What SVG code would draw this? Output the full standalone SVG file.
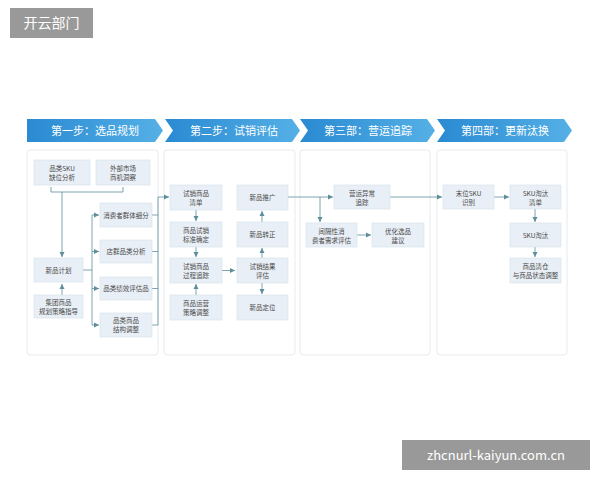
<svg xmlns="http://www.w3.org/2000/svg" width="600" height="480" viewBox="0 0 600 480">
<defs>
<linearGradient id="g" x1="0" y1="0" x2="1" y2="0"><stop offset="0" stop-color="#2a8ad2"/><stop offset="1" stop-color="#55b0e6"/></linearGradient>
<marker id="a" markerWidth="6" markerHeight="6" refX="5" refY="3" orient="auto" markerUnits="userSpaceOnUse"><path d="M0,0.5 L5,3 L0,5.5 Z" fill="#5d8e9c"/></marker>
</defs>
<style>
text{font-family:"Noto Sans CJK SC","Noto Sans",sans-serif;}
.n rect{fill:#e9eff6;stroke:#d8e2ec;stroke-width:0.6;}
.n text{font-size:6.5px;fill:#4a4a4a;text-anchor:middle;}
.p{fill:#fff;stroke:#dfe5ea;stroke-width:0.8;}
.b{fill:url(#g);}
.bt{font-size:11px;fill:#fff;text-anchor:middle;}
#c path{fill:none;stroke:#5d8e9c;stroke-width:0.8;}
.ar{marker-end:url(#a);}
</style>
<rect width="600" height="480" fill="#fff"/>
<g id="wm1"><rect x="10" y="8" width="83" height="30" fill="#999"/><text x="51.5" y="28" font-size="14" fill="#fff" text-anchor="middle">开云部门</text></g>
<g id="wm2"><rect x="402" y="440" width="188" height="30" fill="#999"/><text x="496" y="460" font-size="13" fill="#fff" text-anchor="middle" font-family="Liberation Sans, sans-serif">zhcnurl-kaiyun.com.cn</text></g>

<g id="banners">
<polygon class="b" points="27,119 155,119 163,130.5 155,142 27,142"/>
<polygon class="b" points="165,119 292,119 300,130.5 292,142 165,142 173,130.5"/>
<polygon class="b" points="300,119 427,119 435,130.5 427,142 300,142 308,130.5"/>
<polygon class="b" points="437,119 564,119 572,130.5 564,142 437,142 445,130.5"/>
<text class="bt" x="95" y="134.5">第一步：选品规划</text>
<text class="bt" x="234" y="134.5">第二步：试销评估</text>
<text class="bt" x="368" y="134.5">第三部：营运追踪</text>
<text class="bt" x="505" y="134.5">第四部：更新汰换</text>
</g>

<g id="panels">
<rect class="p" x="27" y="150" width="131" height="205" rx="3"/>
<rect class="p" x="164" y="150" width="131" height="205" rx="3"/>
<rect class="p" x="300" y="150" width="130" height="205" rx="3"/>
<rect class="p" x="437" y="150" width="130" height="205" rx="3"/>
</g>

<g id="c">
<path d="M51,187 V192 H123 V187"/>
<path class="ar" d="M62,192 V257"/>
<path class="ar" d="M62,295 V284"/>
<path d="M83,270 H92"/>
<path d="M92,215 V325"/>
<path class="ar" d="M92,215 H99"/>
<path class="ar" d="M92,251.5 H99"/>
<path class="ar" d="M92,288.5 H99"/>
<path class="ar" d="M92,325 H99"/>
<path d="M152,215 H158 M152,251.5 H158 M152,288.5 H158 M152,325 H158"/>
<path class="ar" d="M158,325 V197 H169"/>
<path class="ar" d="M196,210 V221"/>
<path class="ar" d="M196,247 V257"/>
<path class="ar" d="M196,295 V284"/>
<path class="ar" d="M222,270.5 H235"/>
<path class="ar" d="M262,258 V248"/>
<path class="ar" d="M262,222 V211"/>
<path class="ar" d="M262,283 V294"/>
<path class="ar" d="M288,197 H333"/>
<path class="ar" d="M320,197 V222"/>
<path class="ar" d="M357,235 H371"/>
<path class="ar" d="M390,197 H442"/>
<path class="ar" d="M494,197 H509"/>
<path class="ar" d="M535,209 V222"/>
<path class="ar" d="M535,247 V257"/>
</g>

<g id="n1" class="n"><rect x="34" y="160" width="56" height="25"/><text x="62" y="171">品类SKU</text><text x="62" y="180">缺位分析</text></g>
<g id="n2" class="n"><rect x="96" y="160" width="54" height="25"/><text x="123" y="171">外部市场</text><text x="123" y="180">商机洞察</text></g>
<g id="n3" class="n"><rect x="34" y="258" width="49" height="24"/><text x="58.5" y="272.5">新品计划</text></g>
<g id="n4" class="n"><rect x="34" y="295" width="49" height="23"/><text x="58.5" y="305">集团商品</text><text x="58.5" y="314">规划策略指导</text></g>
<g id="n5" class="n"><rect x="100" y="203" width="52" height="24"/><text x="126" y="217.5">消费者群体细分</text></g>
<g id="n6" class="n"><rect x="100" y="240" width="52" height="23"/><text x="126" y="254">店群品类分析</text></g>
<g id="n7" class="n"><rect x="100" y="277" width="52" height="23"/><text x="126" y="291">品类绩效评估品</text></g>
<g id="n8" class="n"><rect x="100" y="313" width="52" height="24"/><text x="126" y="323">品类商品</text><text x="126" y="332">结构调整</text></g>
<g id="n9" class="n"><rect x="170" y="185" width="52" height="25"/><text x="196" y="196">试销商品</text><text x="196" y="205">清单</text></g>
<g id="n10" class="n"><rect x="170" y="222" width="52" height="25"/><text x="196" y="233">商品试销</text><text x="196" y="242">标准确定</text></g>
<g id="n11" class="n"><rect x="170" y="258" width="52" height="25"/><text x="196" y="269">试销商品</text><text x="196" y="278">过程追踪</text></g>
<g id="n12" class="n"><rect x="170" y="295" width="52" height="25"/><text x="196" y="306">商品运营</text><text x="196" y="315">策略调整</text></g>
<g id="n13" class="n"><rect x="237" y="185" width="51" height="25"/><text x="262.5" y="200">新品推广</text></g>
<g id="n14" class="n"><rect x="237" y="222" width="51" height="25"/><text x="262.5" y="237">新品转正</text></g>
<g id="n15" class="n"><rect x="237" y="258" width="51" height="25"/><text x="262.5" y="269">试销结果</text><text x="262.5" y="278">评估</text></g>
<g id="n16" class="n"><rect x="237" y="295" width="51" height="25"/><text x="262.5" y="310">新品定位</text></g>
<g id="n17" class="n"><rect x="334" y="185" width="56" height="24"/><text x="362" y="195.5">营运异常</text><text x="362" y="204.5">追踪</text></g>
<g id="n18" class="n"><rect x="306" y="223" width="51" height="24"/><text x="331.5" y="233.5">间隔性消</text><text x="331.5" y="242.5">费者需求评估</text></g>
<g id="n19" class="n"><rect x="372" y="223" width="52" height="24"/><text x="398" y="233.5">优化选品</text><text x="398" y="242.5">建议</text></g>
<g id="n20" class="n"><rect x="443" y="185" width="51" height="24"/><text x="468.5" y="195.5">末位SKU</text><text x="468.5" y="204.5">识别</text></g>
<g id="n21" class="n"><rect x="510" y="185" width="51" height="24"/><text x="535.5" y="195.5">SKU淘汰</text><text x="535.5" y="204.5">清单</text></g>
<g id="n22" class="n"><rect x="510" y="223" width="51" height="24"/><text x="535.5" y="237.5">SKU淘汰</text></g>
<g id="n23" class="n"><rect x="510" y="258" width="51" height="25"/><text x="535.5" y="269">商品清仓</text><text x="535.5" y="278">与商品状态调整</text></g>
</svg>
